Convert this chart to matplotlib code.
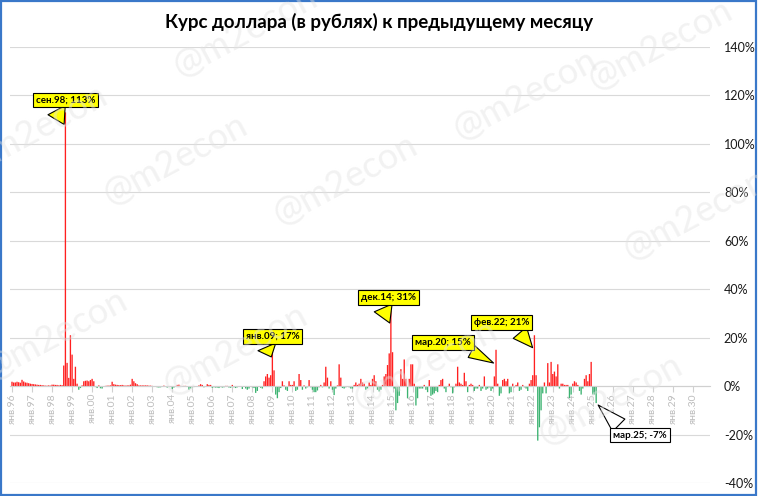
import numpy as np
import matplotlib.pyplot as plt
from matplotlib.patches import Rectangle

plt.rcParams['font.family'] = ['Lato', 'DejaVu Sans']

# monthly change of USD/RUB vs previous month, %
chg_1996 = [1.8, 1.5, 1.5, 1.8, 1.6, 1.4, 2.6, 1.9, 1.5, 1.4, 1.2, 1.0]
chg_1997 = [0.9, 0.8, 0.7, 0.6, 0.5, 0.5, 0.4, 0.3, 0.2, 0.2, 0.3, 0.2]
chg_1998 = [0.6, 0.6, 0.5, 0.5, 0.3, 0.5, 0.4, 8.5, 113.0, 9.6, 3.4, 21.0]
chg_1999 = [13.0, 3.0, 8.0, 1.0, -1.5, -0.8, 0.3, 2.0, 2.2, 2.3, 2.0, 2.5]
chg_2000 = [3.0, 2.0, -0.4, -0.8, 0.3, -0.9, -1.0, -0.2, 0.1, 0.2, 0.2, 0.3]
chg_2001 = [1.8, 0.8, 0.6, 0.5, 0.4, 0.4, 0.5, 0.3, 0.2, 0.3, 0.3, 0.6]
chg_2002 = [3.0, 2.0, 1.2, 0.8, 0.3, 0.3, 0.3, 0.3, 0.3, 0.3, 0.2, 0.2]
chg_2003 = [0.1, -0.2, -0.3, -0.5, -0.6, -0.5, -0.3, 0.2, -0.1, -0.6, -0.4, -0.3]
chg_2004 = [-1.2, -0.6, -0.3, 0.5, 0.6, 0.1, 0.0, 0.1, 0.1, -0.3, -1.5, -1.0]
chg_2005 = [-0.5, -0.4, -0.3, 0.0, 0.3, 0.8, 0.5, -0.5, -0.3, 0.8, 0.5, 0.5]
chg_2006 = [-0.7, -0.5, -0.6, -0.6, -0.8, -0.4, -0.6, -0.5, 0.1, 0.1, -0.6, -0.7]
chg_2007 = [0.5, -0.5, -0.8, -0.5, -0.1, -0.1, -1.2, 0.0, -1.0, -1.5, -1.0, -0.3]
chg_2008 = [-0.5, -0.8, -2.8, -2.0, -0.2, -0.7, -1.0, 2.0, 4.0, 5.0, 3.5, 4.5]
chg_2009 = [17.0, 6.5, -3.5, -5.0, -2.5, -0.8, 2.0, 0.3, -1.5, -2.0, 2.0, 0.5]
chg_2010 = [0.5, 2.0, -2.0, -1.5, 5.0, 2.5, -1.5, 0.3, -1.0, -0.5, 2.5, -0.5]
chg_2011 = [-1.5, -2.5, -2.5, -1.8, -0.5, 0.5, -0.5, 1.5, 8.0, 3.5, -1.0, 2.0]
chg_2012 = [-1.5, -3.7, -1.0, 0.3, 9.0, 3.5, -0.8, -1.0, -0.5, -0.3, -0.5, -1.0]
chg_2013 = [-1.0, 0.5, 1.5, 0.5, 1.0, 3.0, 1.5, 1.0, -1.5, -1.0, 1.5, 0.5]
chg_2014 = [3.0, 4.5, 2.0, -1.5, -2.2, -1.5, 0.5, 4.0, 5.0, 8.7, 13.5, 31.0]
chg_2015 = [14.0, -1.0, -10.0, -7.0, -4.0, 7.0, 3.0, 11.0, 3.0, -5.0, 3.0, 9.0]
chg_2016 = [9.0, 1.0, -8.0, -5.0, -1.0, -1.0, -1.0, 0.5, -1.5, -2.5, 2.5, -4.0]
chg_2017 = [-3.5, -3.0, -2.0, -2.5, 0.5, 2.5, 3.0, -1.0, -2.5, 0.0, 1.0, -0.5]
chg_2018 = [-3.0, -0.5, 1.0, 8.0, 1.5, 1.0, 0.5, 5.5, 2.0, -2.5, 0.5, 1.0]
chg_2019 = [0.5, -2.0, -1.0, -1.0, 0.5, -2.0, -1.0, 4.0, -1.5, -1.0, -0.5, -2.0]
chg_2020 = [-1.0, 4.0, 15.0, 1.0, -4.0, -3.0, 2.5, 3.0, 2.0, 3.0, -3.0, -2.5]
chg_2021 = [1.0, -0.5, 0.5, 1.5, -2.0, -1.5, 0.5, -0.5, -1.0, -2.0, 1.0, 2.5]
chg_2022 = [4.5, 21.0, 4.5, -22.5, -17.0, -10.0, -3.0, 1.5, -3.0, 9.5, 1.5, 10.0]
chg_2023 = [5.0, 6.0, 4.0, 9.0, -1.0, 1.0, 1.0, 0.5, 0.5, 0.5, -5.0, -3.5]
chg_2024 = [1.0, 2.0, 1.5, 0.5, -2.0, -3.5, -1.0, 3.0, 4.5, 2.0, 5.0, 10.0]
chg_2025 = [-3.5, -3.5, -7.0]

years = list(range(1996, 2026))
values = np.array(sum([globals()[f'chg_{y}'] for y in years], []))

first_year, last_year = 1996, 2030
tick_years = list(range(first_year, last_year + 1))
tick_labels = [f'янв.{y % 100:02d}' for y in tick_years]
y_ticks = [-40, -20, 0, 20, 40, 60, 80, 100, 120, 140]

month_names = ['янв', 'фев', 'мар', 'апр', 'май', 'июн',
               'июл', 'авг', 'сен', 'окт', 'ноя', 'дек']
callout_months = [(1998, 9), (2009, 1), (2014, 12), (2020, 3), (2022, 2), (2025, 3)]

fig = plt.figure(figsize=(7.58, 4.96), dpi=100)
ax = fig.add_axes([10 / 758, 13 / 496, 700 / 758, 436 / 496])

x = np.arange(len(values))
colors = ['#ff2020' if v >= 0 else '#3cb371' for v in values]
bars = ax.bar(x, values, width=0.8, color=colors, linewidth=0, zorder=2)
for b in bars:
    b.set_snap(False)

for side in ['top', 'left', 'right']:
    ax.spines[side].set_visible(False)
ax.spines['bottom'].set_position(('data', 0))
ax.spines['bottom'].set_color('#d0d0d0')

ax.set_xlim(-1.2, 418.2)
ax.set_ylim(-40, 140)
ax.set_yticks(y_ticks)
ax.set_yticklabels([f'{v}%' for v in y_ticks])
ax.yaxis.tick_right()
ax.tick_params(axis='y', length=0, pad=10, labelsize=9, labelcolor='#1a1a1a')
ax.grid(axis='y', color='#d9d9d9', lw=0.8, zorder=0)
ax.set_axisbelow(True)

ax.set_xticks([(y - first_year) * 12 for y in tick_years])
ax.set_xticklabels(tick_labels)
ax.tick_params(axis='x', direction='out', length=4, color='#d0d0d0', pad=1,
               labelrotation=90, labelsize=7.5, labelcolor='#bdbdbd')

# callouts: (offset of box in px, relative start of wedge, tail width)
callout_style = [((0, 27), (0.3, 0.0), 2.0),
                 ((0, 23), (0.35, 0.0), 2.0),
                 ((-2, 28), (0.35, 0.0), 2.0),
                 ((-53, 22), (0.85, 0.0), 1.4),
                 ((-33, 27), (0.75, 0.0), 1.8),
                 ((44, -32), (0.2, 1.0), 1.8)]
for (yr, mo), (off, rel, tw) in zip(callout_months, callout_style):
    i = (yr - first_year) * 12 + mo - 1
    v = values[i]
    text = f'{month_names[mo - 1]}.{yr % 100:02d}; {v:.0f}%'
    tip = v - 6 if v > 0 else v
    face = '#ffff00' if v > 0 else 'white'
    ax.annotate(text, xy=(i, tip), xytext=(off[0] * 0.72, off[1] * 0.72),
                textcoords='offset points', ha='center', va='center',
                fontsize=7, fontweight='bold', color='black', zorder=5,
                bbox=dict(boxstyle='square,pad=0.3', fc=face, ec='black', lw=0.8),
                arrowprops=dict(arrowstyle=f'wedge,tail_width={tw},shrink_factor=0.5',
                                fc=face, ec='black', lw=0.8, relpos=rel))

fig.text(0.5, 1 - 22 / 496, 'Курс доллара (в рублях) к предыдущему месяцу',
         ha='center', va='center', fontsize=13.5, fontweight='bold')

# watermark
marks = [(245, 32), (35, 130), (175, 160), (345, 180), (525, 95), (695, 215),
         (55, 335), (235, 350), (425, 365), (610, 400), (660, 45)]
for px, py in marks:
    fig.text(px / 758, 1 - py / 496, '@m2econ', fontsize=26, color='#e2e2e2',
             alpha=0.45, rotation=28, ha='center', va='center', zorder=1)

fig.patches.append(Rectangle((0.001, 0.002), 0.997, 0.995, transform=fig.transFigure,
                             fill=False, ec='#3a78c9', lw=1.6))

fig.savefig('out.png', dpi=100)
